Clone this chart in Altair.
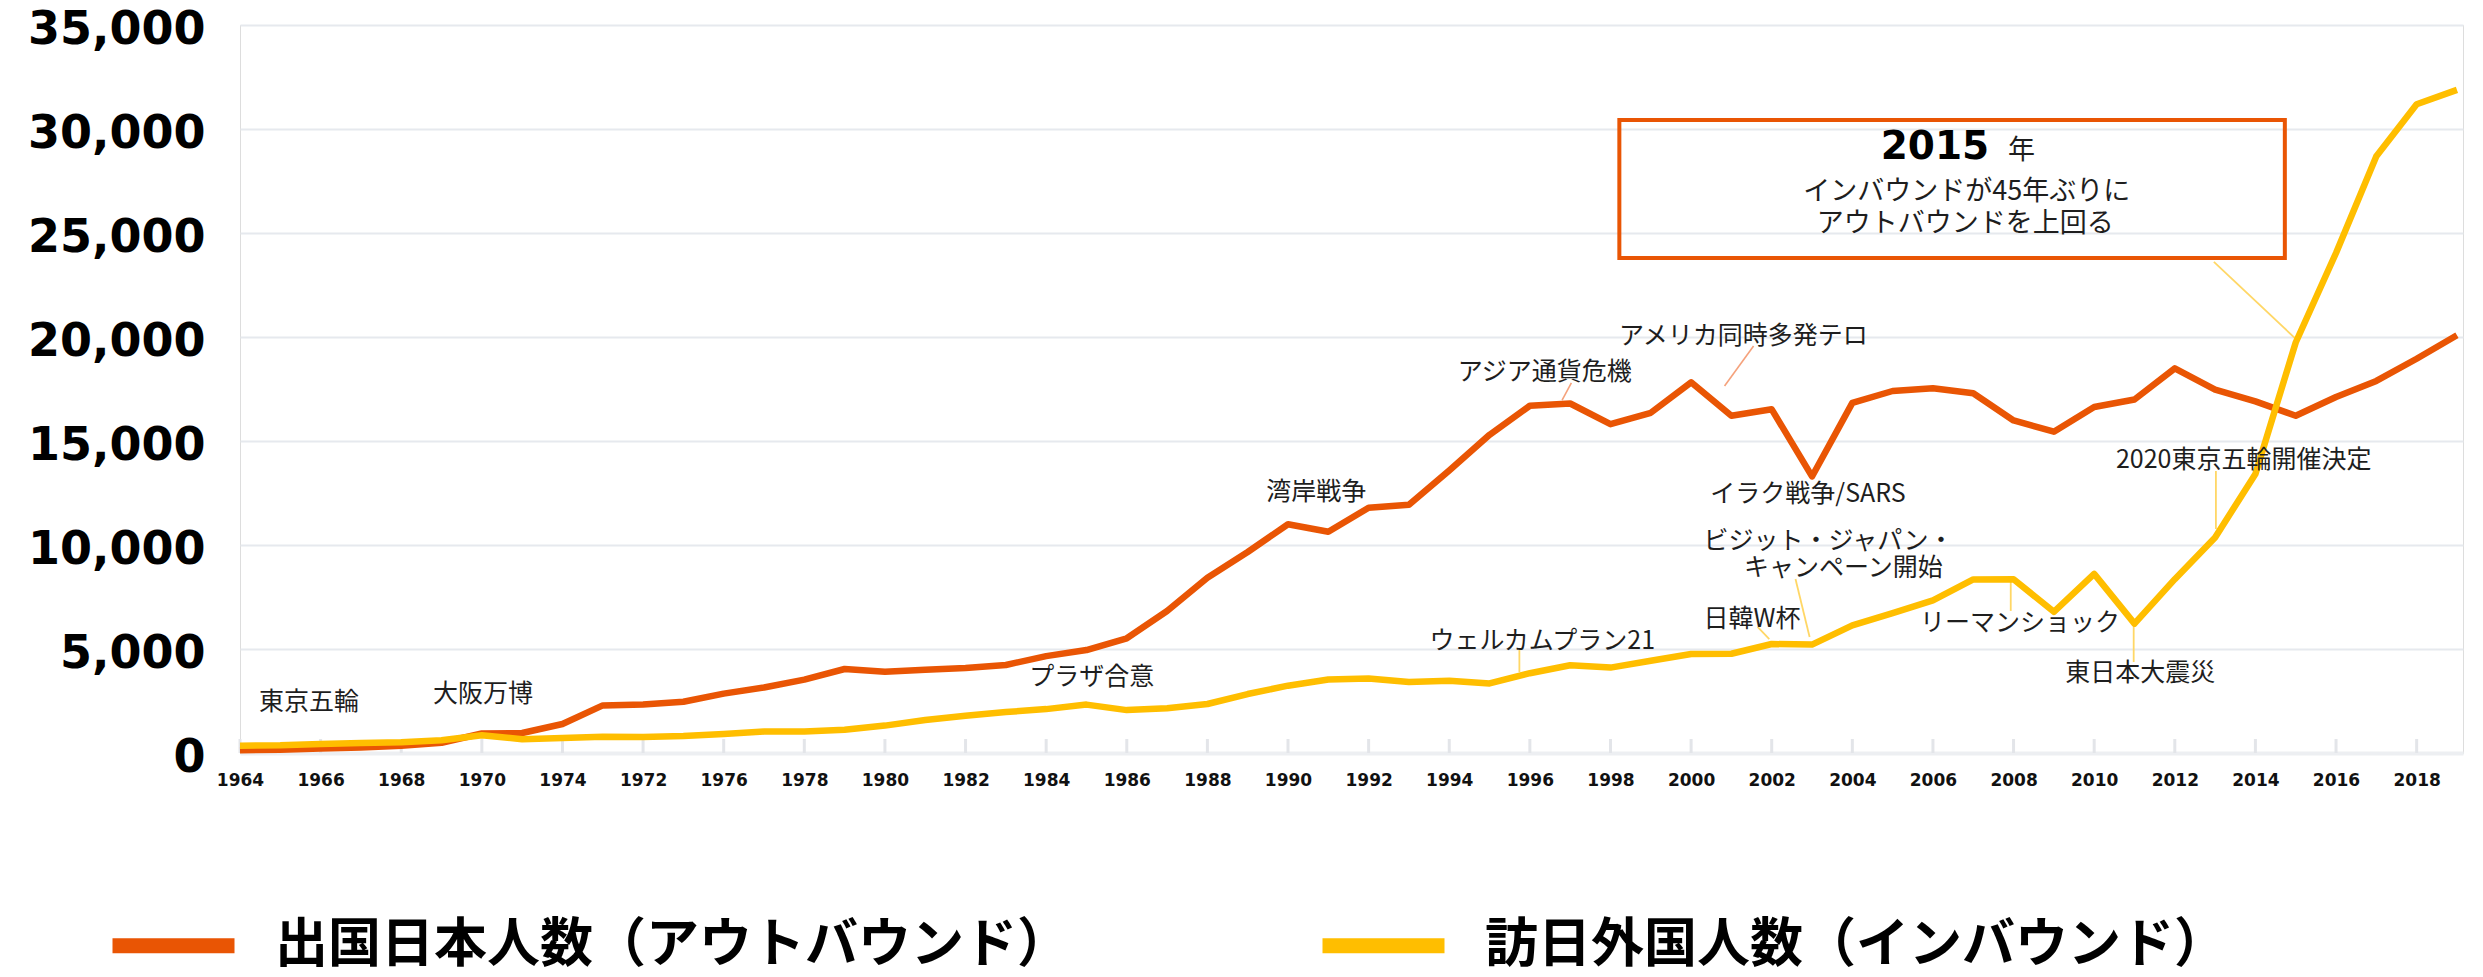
import altair as alt
import pandas as pd

# ---------------- data ----------------
years = list(range(1964, 2020))
outbound = [128, 159, 212, 268, 344, 493, 936, 961, 1392, 2289, 2336, 2466, 2853, 3151,
            3525, 4039, 3909, 4007, 4086, 4233, 4659, 4948, 5516, 6829, 8427, 9663, 10997,
            10634, 11791, 11934, 13579, 15298, 16695, 16803, 15806, 16358, 17819, 16216,
            16523, 13296, 16831, 17404, 17535, 17295, 15987, 15446, 16637, 16994, 18491,
            17473, 16903, 16214, 17116, 17889, 18954, 20081]
inbound = [353, 367, 433, 477, 519, 609, 854, 660, 724, 785, 764, 812, 915, 1028, 1039,
           1113, 1317, 1583, 1793, 1968, 2110, 2327, 2062, 2155, 2355, 2835, 3236, 3533,
           3582, 3410, 3468, 3345, 3837, 4218, 4106, 4438, 4757, 4772, 5239, 5212, 6138,
           6728, 7334, 8347, 8351, 6790, 8611, 6219, 8358, 10364, 13413, 19737, 24039,
           28691, 31192, 31882]

series_names = ["出国日本人数（アウトバウンド）", "訪日外国人数（インバウンド）"]
series_colors = ["#E95504", "#FFBE00"]

tick_years = list(range(1964, 2019, 2))
tick_labels = ["1964", "1966", "1968", "1970", "1974", "1972", "1976", "1978", "1980",
               "1982", "1984", "1986", "1988", "1990", "1992", "1994", "1996", "1998",
               "2000", "2002", "2004", "2006", "2008", "2010", "2012", "2014", "2016", "2018"]
y_ticks = [0, 5000, 10000, 15000, 20000, 25000, 30000, 35000]

ann_text = ["東京五輪", "大阪万博", "プラザ合意", "湾岸戦争", "アジア通貨危機",
            "アメリカ同時多発テロ", "イラク戦争/SARS", "ビジット・ジャパン・", "キャンペーン開始",
            "日韓W杯", "ウェルカムプラン21", "リーマンショック", "東日本大震災", "2020東京五輪開催決定"]
ann_year = [1965.71, 1970.03, 1985.13, 1990.70, 1996.37, 2001.30, 2002.90, 2003.41, 2003.78,
            2001.51, 1996.31, 2008.16, 2011.14, 2013.71]
ann_value = [2450, 2860, 3630, 12525, 18320, 20025, 12450, 10200, 8900, 6420, 5385, 6250,
             3850, 14090]

lead_o_year = [1997.03, 2001.55]
lead_o_value = [17790, 19570]
lead_o_year2 = [1996.80, 2000.83]
lead_o_value2 = [16970, 17645]

lead_y_year = [2002.59, 2001.65, 1995.74, 2007.93, 2010.98, 2013.02, 2012.97]
lead_y_value = [8365, 6060, 4950, 8320, 6395, 13560, 23610]
lead_y_year2 = [2002.94, 2001.94, 1995.74, 2007.93, 2010.98, 2013.02, 2014.98]
lead_y_value2 = [5575, 5480, 3895, 6830, 4375, 10770, 19950]

box_year = [1998.22]
box_year2 = [2014.73]
box_value = [30430]
box_value2 = [23800]

box_title = ["2015"]
box_title_year = [2006.05]
box_title_value = [29140]
box_unit = ["年"]
box_unit_year = [2008.20]
box_unit_value = [28945]
box_lines = ["インバウンドが45年ぶりに", "アウトバウンドを上回る"]
box_lines_year = [2006.84, 2006.80]
box_lines_value = [26975, 25410]

# ---------------- tables ----------------
df_out = pd.DataFrame({"year": years, "value": outbound, "series": series_names[0]})
df_in = pd.DataFrame({"year": years, "value": inbound, "series": series_names[1]})
df_ticks = pd.DataFrame({"year": tick_years})
df_ann = pd.DataFrame({"text": ann_text, "year": ann_year, "value": ann_value})
df_lo = pd.DataFrame({"year": lead_o_year, "value": lead_o_value,
                      "year2": lead_o_year2, "value2": lead_o_value2})
df_ly = pd.DataFrame({"year": lead_y_year, "value": lead_y_value,
                      "year2": lead_y_year2, "value2": lead_y_value2})
df_box = pd.DataFrame({"year": box_year, "year2": box_year2,
                       "value": box_value, "value2": box_value2})
df_bt = pd.DataFrame({"text": box_title, "year": box_title_year, "value": box_title_value})
df_bu = pd.DataFrame({"text": box_unit, "year": box_unit_year, "value": box_unit_value})
df_bl = pd.DataFrame({"text": box_lines, "year": box_lines_year, "value": box_lines_value})

W, H = 2223, 728
xs = alt.Scale(domain=[1964, 2019.15], nice=False, zero=False)
ys = alt.Scale(domain=[0, 35000], nice=False, zero=True)

label_expr = "[" + ",".join("'%s'" % t for t in tick_labels) + "][round((datum.value-1964)/2)]"

x_axis = alt.Axis(values=tick_years, labelExpr=label_expr, title=None, grid=False,
                  ticks=False, tickSize=0, domain=True, domainColor="#EDEFF2", domainWidth=4,
                  labelFont="DejaVu Sans", labelFontSize=17, labelFontWeight="bold",
                  labelColor="#111111", labelPadding=19, labelBaseline="top",
                  labelOverlap=False, labelFlush=False, labelLimit=200)
y_axis = alt.Axis(values=y_ticks, format=",.0f", title=None, grid=True, gridColor="#E6E9EE",
                  gridWidth=2, ticks=False, domain=False, labelFont="DejaVu Sans",
                  labelFontSize=46, labelFontWeight="bold", labelColor="#000000",
                  labelPadding=35, labelOffset=4, labelFlush=False, labelLimit=400)

X = alt.X("year:Q", scale=xs, axis=x_axis)
Y = alt.Y("value:Q", scale=ys, axis=y_axis)

color = alt.Color(
    "series:N",
    scale=alt.Scale(domain=series_names, range=series_colors),
    legend=alt.Legend(orient="none", legendX=-135, legendY=852, direction="horizontal",
                      title=None, symbolType="stroke", symbolSize=122 * 122,
                      symbolStrokeWidth=15, labelFont="Noto Sans CJK JP", labelFontSize=53,
                      labelFontWeight="bold", labelColor="#000000", labelOffset=33,
                      columnPadding=222, labelLimit=2000),
)

ticks_layer = alt.Chart(df_ticks).mark_rule(color="#E3E5E9", strokeWidth=3).encode(
    x=X, y=alt.value(H - 14), y2=alt.value(H),
)

line_out = alt.Chart(df_out).mark_line(strokeWidth=6.5, strokeJoin="round").encode(
    x=X, y=Y, color=color,
)
line_in = alt.Chart(df_in).mark_line(strokeWidth=6.5, strokeJoin="round").encode(
    x=X, y=Y, color=color,
)

lead_o = alt.Chart(df_lo).mark_rule(color="#F5A27C", strokeWidth=1.6).encode(
    x=X, x2="year2:Q", y=Y, y2="value2:Q",
)
lead_y = alt.Chart(df_ly).mark_rule(color="#FFD766", strokeWidth=1.8).encode(
    x=X, x2="year2:Q", y=Y, y2="value2:Q",
)

box = alt.Chart(df_box).mark_rect(fillOpacity=0, stroke="#E95504", strokeWidth=4).encode(
    x=X, x2="year2:Q", y=Y, y2="value2:Q",
)

ann = alt.Chart(df_ann).mark_text(font="Noto Sans CJK JP", fontSize=25, color="#1E1E1E",
                                  baseline="middle", align="center").encode(
    x=X, y=Y, text="text:N",
)
bt = alt.Chart(df_bt).mark_text(font="DejaVu Sans", fontSize=39, fontWeight="bold",
                                color="#000000", baseline="middle").encode(
    x=X, y=Y, text="text:N",
)
bu = alt.Chart(df_bu).mark_text(font="Noto Sans CJK JP", fontSize=27, color="#1E1E1E",
                                baseline="middle").encode(
    x=X, y=Y, text="text:N",
)
bl = alt.Chart(df_bl).mark_text(font="Noto Sans CJK JP", fontSize=27, color="#1E1E1E",
                                baseline="middle").encode(
    x=X, y=Y, text="text:N",
)

chart = alt.layer(ticks_layer, lead_o, lead_y, line_out, line_in, box, ann, bt, bu, bl).properties(
    width=W, height=H,
    padding={"left": 232, "top": 17, "right": 12, "bottom": 214},
    autosize=alt.AutoSizeParams(type="none"),
).configure_view(stroke=None).configure(background="#FFFFFF")

chart.save("out.html", embed_options={"renderer": "svg", "actions": False})
